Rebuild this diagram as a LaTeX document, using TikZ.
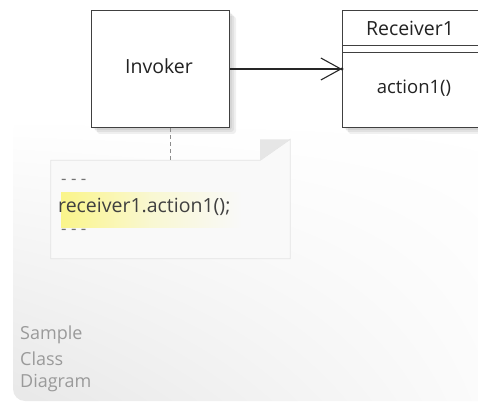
\documentclass[tikz,border=0pt]{standalone}
\usepackage{fontspec}
\setmainfont{Open Sans}
\usetikzlibrary{arrows.meta,shadings}
\definecolor{txt}{HTML}{222222}
\definecolor{notefill}{HTML}{F9F9F9}
\definecolor{noteline}{HTML}{E4E4E4}
\definecolor{ear}{HTML}{E6E6E6}
\definecolor{hl}{HTML}{FAF58A}
\definecolor{capt}{HTML}{9A9A9A}
\begin{document}
\begin{tikzpicture}[x=1pt,y=-1pt,
  umlbox/.style={draw=black!75, line width=1.1pt, fill=white, inner sep=0pt, minimum width=138pt, minimum height=117pt},
  boxtext/.style={text=txt, inner sep=0pt, anchor=center},
  notetext/.style={text=black!75, inner sep=0pt, anchor=west, font=\fontsize{19.5}{22}\selectfont},
  dotstext/.style={text=black!55, inner sep=0pt, anchor=west, font=\fontsize{17}{20}\selectfont},
  captext/.style={text=capt, inner sep=0pt, anchor=west, font=\fontsize{18}{20}\selectfont},
  softshadow/.style={fill=black, opacity=0.06, rounded corners=3pt}
]
\useasboundingbox (0,0) rectangle (478,403);
\begin{scope}
\clip (0,0) rectangle (478,403);
% background area
\shade[rounded corners=12pt, lower left=black!9, upper left=white, lower right=black!1, upper right=white]
  (13,118) rectangle (520,401);
% shadows
\foreach \d in {2,4,6}{
  \fill[softshadow] (91+\d,10+\d) rectangle (230+\d,128+\d);
  \fill[softshadow] (342+\d,10+\d) rectangle (520+\d,128+\d);
}
% Invoker
\node[umlbox] (invoker) at (160.5,69) {};
\node[boxtext, font=\fontsize{19.5}{22}\selectfont] (invlabel) at (159,66) {Invoker};
% Receiver1
\node[umlbox, minimum width=160pt, anchor=north west] (receiver) at (342,10) {};
\draw[black!75, line width=0.8pt] (receiver.west |- 0,45) -- (receiver.east |- 0,45);
\draw[black!75, line width=0.8pt] (receiver.west |- 0,52) -- (receiver.east |- 0,52);
\node[boxtext, font=\fontsize{19.5}{22}\selectfont] (reclabel) at (410,28) {Receiver1};
\node[boxtext, font=\fontsize{18.5}{21}\selectfont] (action) at (414,88) {action1()};
% association
\coordinate (recin) at (receiver.west |- invoker.east);
\draw[black!85, line width=1.1pt, -{Straight Barb[length=20pt,width=22pt,line width=1.1pt]}] (invoker.east) -- (recin);
\fill[black!85] (recin) circle (1.6pt);
% note
\node[minimum width=239pt, minimum height=98pt, inner sep=0pt] (note) at (170.5,209.5) {};
\fill[notefill] (note.north west) -- ([xshift=-30pt]note.north east) -- ([yshift=21pt]note.north east) -- (note.south east) -- (note.south west) -- cycle;
\draw[noteline, line width=0.8pt] (note.north west) -- ([xshift=-30pt]note.north east) -- ([yshift=21pt]note.north east) -- (note.south east) -- (note.south west) -- cycle;
\fill[ear] ([xshift=-30pt]note.north east) -- ([yshift=21pt]note.north east) -- ([xshift=-30pt,yshift=21pt]note.north east) -- cycle;
\draw[black!45, line width=0.9pt, dash pattern=on 4pt off 3pt] (invoker.south -| note.north) -- (note.north);
% highlight
\shade[left color=hl, right color=notefill, middle color=hl!35!notefill] (61,192) rectangle (242,227);
\node[dotstext] (dots1) at (61,182) {- - -};
\node[notetext] (code) at (58,207) {receiver1.action1();};
\node[dotstext] (dots2) at (61,232) {- - -};
% caption
\node[captext] (c1) at (20,335) {Sample};
\node[captext] (c2) at (20,359) {Class};
\node[captext] (c3) at (20,383) {Diagram};
\end{scope}
\end{tikzpicture}
\end{document}
